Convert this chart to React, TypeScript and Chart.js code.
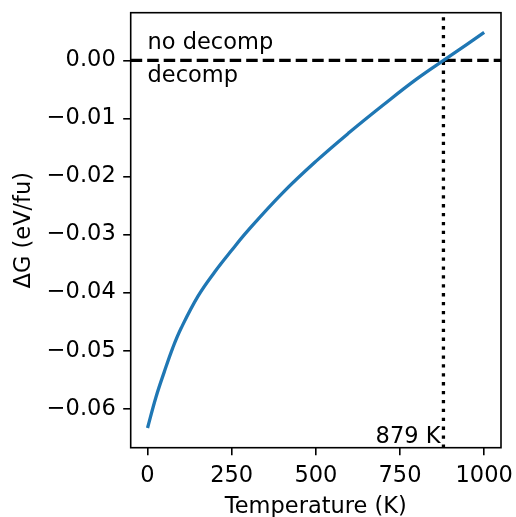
import React, { useEffect, useRef } from "react";
import { Chart, registerables } from "chart.js";

Chart.register(...registerables);

const temperatures = [0, 25, 50, 75, 100, 150, 200, 250, 300, 400, 500, 600, 700, 800, 900, 1000];
const deltaG = [-0.0633, -0.058, -0.0536, -0.0495, -0.0461, -0.0406, -0.0364, -0.0327, -0.0292, -0.0229, -0.0174, -0.0124, -0.0077, -0.0032, 0.0008, 0.0048];
const xTicks = [0, 250, 500, 750, 1000];
const yTicks = [-0.06, -0.05, -0.04, -0.03, -0.02, -0.01, 0.0];
const crossT = 879;
const xRange = [-50, 1050];
const yRange = [-0.0667, 0.0082];

const FONT = "DejaVu Sans";
const FS = 22.5;

const fmtY = (v: number) => (v < 0 ? "\u2212" + Math.abs(v).toFixed(2) : v.toFixed(2));

export default function App() {
  const ref = useRef<HTMLCanvasElement | null>(null);
  useEffect(() => {
    if (!ref.current) return;
    const overlay = {
      id: "overlay",
      afterDraw(chart: any) {
        const { ctx, chartArea: a, scales } = chart;
        const xs = scales.x, ys = scales.y;
        ctx.save();
        ctx.strokeStyle = "black";
        ctx.lineWidth = 1.6;
        ctx.strokeRect(a.left, a.top, a.right - a.left, a.bottom - a.top);
        ctx.fillStyle = "black";
        ctx.font = `${FS}px "${FONT}"`;
        ctx.textBaseline = "alphabetic";
        ctx.textAlign = "left";
        ctx.fillText("no decomp", xs.getPixelForValue(0), ys.getPixelForValue(0.002));
        ctx.fillText("decomp", xs.getPixelForValue(0), ys.getPixelForValue(-0.0037));
        ctx.textAlign = "right";
        ctx.fillText(`${crossT} K`, xs.getPixelForValue(crossT) - 3, a.bottom - 5);
        // axis titles
        ctx.textAlign = "center";
        ctx.fillText("Temperature (K)", (a.left + a.right) / 2, 513);
        ctx.translate(30, (a.top + a.bottom) / 2);
        ctx.rotate(-Math.PI / 2);
        ctx.fillText("\u0394G (eV/fu)", 0, 0);
        ctx.restore();
      },
    };
    const chart = new Chart(ref.current, {
      type: "scatter",
      data: {
        datasets: [
          {
            data: temperatures.map((t, i) => ({ x: t, y: deltaG[i] })),
            showLine: true,
            borderColor: "#1f77b4",
            borderWidth: 3.3,
            pointRadius: 0,
            tension: 0.4,
          },
          {
            data: [{ x: xRange[0], y: 0 }, { x: xRange[1], y: 0 }],
            showLine: true,
            borderColor: "black",
            borderWidth: 3.3,
            borderDash: [11.5, 5],
            pointRadius: 0,
          },
          {
            data: [{ x: crossT, y: yRange[0] }, { x: crossT, y: yRange[1] }],
            showLine: true,
            borderColor: "black",
            borderWidth: 3.3,
            borderDash: [3.3, 5.6],
            pointRadius: 0,
          },
        ],
      },
      options: {
        animation: false,
        responsive: false,
        devicePixelRatio: 1,
        layout: { padding: { top: 12.7, right: 15, left: 0, bottom: 0 } },
        plugins: { legend: { display: false }, tooltip: { enabled: false } },
        scales: {
          x: {
            type: "linear",
            min: xRange[0],
            max: xRange[1],
            afterBuildTicks: (s: any) => { s.ticks = xTicks.map((v) => ({ value: v })); },
            afterFit: (s: any) => { s.height = 517 - 447.7; s.paddingLeft = 0; s.paddingRight = 0; },
            grid: { drawOnChartArea: false, drawTicks: true, tickLength: 7.5, color: "black", lineWidth: 1.6 },
            border: { display: false },
            ticks: { color: "black", font: { family: FONT, size: FS }, padding: 7, maxRotation: 0, callback: (v: any) => String(v) },
          },
          y: {
            type: "linear",
            min: yRange[0],
            max: yRange[1],
            afterBuildTicks: (s: any) => { s.ticks = yTicks.map((v) => ({ value: v })); },
            afterFit: (s: any) => { s.width = 130.7; s.paddingTop = 0; s.paddingBottom = 0; },
            grid: { drawOnChartArea: false, drawTicks: true, tickLength: 7.5, color: "black", lineWidth: 1.6 },
            border: { display: false },
            ticks: { color: "black", font: { family: FONT, size: FS }, padding: 7.5, callback: (v: any) => fmtY(v) },
          },
        },
      },
      plugins: [overlay],
    } as any);
    return () => chart.destroy();
  }, []);
  return (
    <div style={{ position: "absolute", left: 0, top: 0, width: 516, height: 517, background: "white" }}>
      <canvas ref={ref} width={516} height={517} />
    </div>
  );
}
